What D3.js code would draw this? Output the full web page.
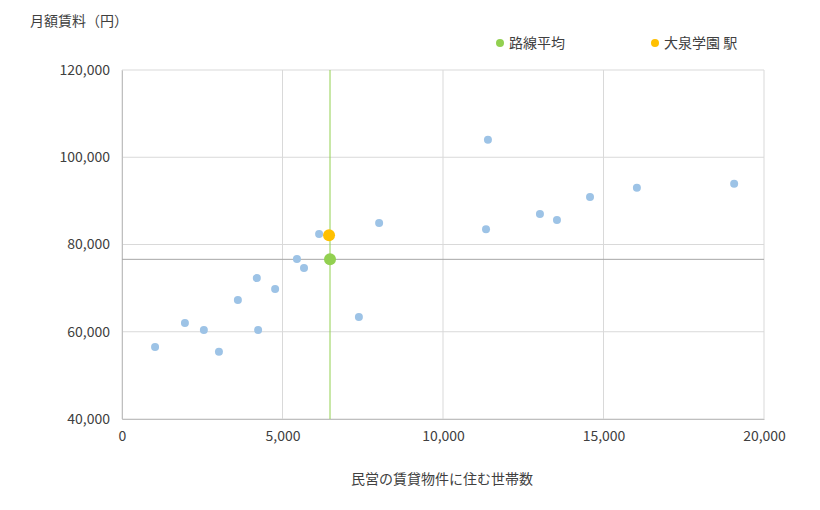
<!DOCTYPE html>
<html><head><meta charset="utf-8">
<script src="https://cdn.jsdelivr.net/npm/d3@7"></script>
<style>body{margin:0;background:#fff;font-family:"Noto Sans CJK JP","Noto Sans",sans-serif;}</style>
</head><body><svg id="c" width="820" height="510"></svg>
<script>
const stationX=[1030,1960,2550,3020,3610,4200,4240,4770,5450,5670,6140,7380,8010,11340,11400,13020,13550,14580,16040,19070];
const stationY=[56500,62000,60400,55400,67300,72300,60400,69800,76700,74600,82400,63400,84900,83500,104000,87000,85600,90900,93000,93900];
const routeAvg=[6480,76600];
const target=[6450,82100];
const xTicks=[0,5000,10000,15000,20000];
const yTicks=[40000,60000,80000,100000,120000];
const labels={y:"月額賃料（円）",x:"民営の賃貸物件に住む世帯数",avg:"路線平均",st:"大泉学園 駅"};

const svg=d3.select("#c");
const x=d3.scaleLinear().domain([0,20000]).range([122,764]);
const y=d3.scaleLinear().domain([40000,120000]).range([419,70]);
const fmt=d3.format(",");
const g=svg.append("g");
g.selectAll(".vx").data(xTicks).join("line").attr("x1",d=>x(d)).attr("x2",d=>x(d)).attr("y1",70).attr("y2",419).attr("stroke","#d9d9d9");
g.selectAll(".hy").data(yTicks).join("line").attr("x1",122).attr("x2",764).attr("y1",d=>y(d)).attr("y2",d=>y(d)).attr("stroke","#d9d9d9");
const ax=svg.append("g").attr("transform","translate(0,419)").call(d3.axisBottom(x).tickValues(xTicks).tickFormat(fmt).tickSize(0).tickPadding(12));
const ay=svg.append("g").attr("transform","translate(122,0)").call(d3.axisLeft(y).tickValues(yTicks).tickFormat(fmt).tickSize(0).tickPadding(12));
[ax,ay].forEach(a=>{a.select(".domain").attr("stroke","#bfbfbf");a.selectAll("text").attr("fill","#404040").style("font-size","14px").style("font-family","'Noto Sans CJK JP',sans-serif");});
svg.append("line").attr("x1",x(routeAvg[0])).attr("x2",x(routeAvg[0])).attr("y1",70).attr("y2",419).attr("stroke","#92d050").attr("stroke-width",1);
svg.append("line").attr("x1",122).attr("x2",764).attr("y1",y(routeAvg[1])).attr("y2",y(routeAvg[1])).attr("stroke","#a6a6a6").attr("stroke-width",1);
svg.selectAll(".p").data(stationX.map((d,i)=>[d,stationY[i]])).join("circle").attr("cx",d=>x(d[0])).attr("cy",d=>y(d[1])).attr("r",4).attr("fill","#9dc3e6");
svg.append("circle").attr("cx",x(routeAvg[0])).attr("cy",y(routeAvg[1])).attr("r",6).attr("fill","#92d050");
svg.append("circle").attr("cx",x(target[0])).attr("cy",y(target[1])).attr("r",6).attr("fill","#ffc000");
const t=(xx,yy,s,anchor)=>svg.append("text").attr("x",xx).attr("y",yy).attr("text-anchor",anchor||"start").attr("fill","#404040").style("font-size","14px").text(s);
t(30,26,labels.y);
t(442,484,labels.x,"middle");
svg.append("circle").attr("cx",500).attr("cy",43).attr("r",4).attr("fill","#92d050");
t(509,48,labels.avg);
svg.append("circle").attr("cx",655).attr("cy",43).attr("r",4).attr("fill","#ffc000");
t(664,48,labels.st);
</script></body></html>
